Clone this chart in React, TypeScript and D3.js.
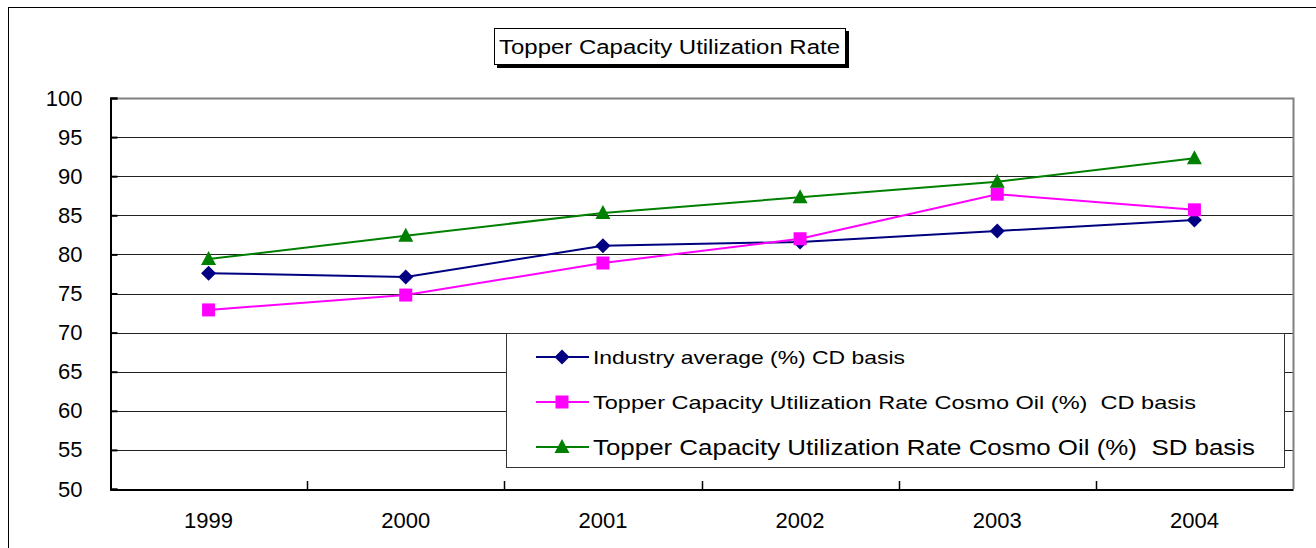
import { useEffect, useRef } from "react";
import * as d3 from "d3";

const YEARS = ["1999", "2000", "2001", "2002", "2003", "2004"];
const INDUSTRY_CD = [77.6, 77.1, 81.1, 81.6, 83.0, 84.4];
const COSMO_CD = [72.9, 74.8, 78.9, 82.0, 87.7, 85.7];
const COSMO_SD = [79.4, 82.4, 85.3, 87.3, 89.3, 92.3];
const Y_TICKS = [50, 55, 60, 65, 70, 75, 80, 85, 90, 95, 100];
const TITLE = "Topper Capacity Utilization Rate";

const SERIES = [
  { name: "Industry average (%) CD basis", values: INDUSTRY_CD, color: "#000080", shape: "diamond" },
  { name: "Topper Capacity Utilization Rate Cosmo Oil (%)  CD basis", values: COSMO_CD, color: "#ff00ff", shape: "square" },
  { name: "Topper Capacity Utilization Rate Cosmo Oil (%)  SD basis", values: COSMO_SD, color: "#008000", shape: "triangle" },
];

const FONT = "'Liberation Sans', Arial, sans-serif";

export default function App() {
  const svgRef = useRef<SVGSVGElement | null>(null);

  useEffect(() => {
    const svg = svgRef.current;
    if (!svg) return;
    svg.innerHTML = "";
    const root = d3.select(svg);

    const plot = { left: 110, right: 1293, top: 98, bottom: 489 };

    const x = d3.scaleBand().domain(YEARS).range([plot.left, plot.right]);
    const y = d3.scaleLinear().domain([50, 100]).range([plot.bottom, plot.top]);
    const cx = (yr: string) => x(yr)! + x.bandwidth() / 2;

    // outer chart frame (runs off the page on right/bottom)
    root.append("rect")
      .attr("x", 8.5).attr("y", 7.5)
      .attr("width", 1340).attr("height", 600)
      .attr("fill", "#fff").attr("stroke", "#000").attr("stroke-width", 1);

    // title box with shadow
    root.append("rect")
      .attr("x", 497).attr("y", 31).attr("width", 352).attr("height", 37)
      .attr("fill", "#000");
    root.append("rect")
      .attr("x", 494.5).attr("y", 28.5).attr("width", 351).attr("height", 36)
      .attr("fill", "#fff").attr("stroke", "#000").attr("stroke-width", 1);
    root.append("text")
      .attr("x", 499).attr("y", 54)
      .attr("font-family", FONT).attr("font-size", 20)
      .attr("textLength", 341).attr("lengthAdjust", "spacingAndGlyphs")
      .text(TITLE);

    // gridlines
    root.append("g")
      .selectAll("line")
      .data(Y_TICKS.filter((t) => t > 50 && t < 100))
      .join("line")
      .attr("x1", plot.left).attr("x2", plot.right)
      .attr("y1", (d) => Math.round(y(d)) + 0.5).attr("y2", (d) => Math.round(y(d)) + 0.5)
      .attr("stroke", "#222").attr("stroke-width", 1);

    // plot frame: top/right gray
    root.append("path")
      .attr("d", `M${plot.left},${plot.top + 0.5}H${plot.right + 0.5}V${plot.bottom}`)
      .attr("fill", "none").attr("stroke", "#808080").attr("stroke-width", 2);

    // y axis
    const yAxis = root.append("g")
      .attr("transform", `translate(${plot.left + 0.5},0)`)
      .call(d3.axisLeft(y).tickValues(Y_TICKS).tickSize(-7).tickPadding(28));
    yAxis.select(".domain").attr("stroke", "#000").attr("stroke-width", 2);
    yAxis.selectAll(".tick line").attr("stroke", "#000").attr("stroke-width", 2);
    yAxis.selectAll("text")
      .attr("font-family", FONT).attr("font-size", 22).attr("fill", "#000");

    // x axis
    const xAxis = root.append("g")
      .attr("transform", `translate(0,${plot.bottom + 0.5})`)
      .call(d3.axisBottom(x).tickSize(0).tickPadding(23));
    xAxis.select(".domain").attr("stroke", "#000").attr("stroke-width", 2);
    xAxis.selectAll("text")
      .attr("font-family", FONT).attr("font-size", 22).attr("fill", "#000");
    // category boundary ticks
    root.append("g")
      .selectAll("line")
      .data(YEARS.slice(1))
      .join("line")
      .attr("x1", (d) => Math.round(x(d)!) + 0.5).attr("x2", (d) => Math.round(x(d)!) + 0.5)
      .attr("y1", plot.bottom - 8).attr("y2", plot.bottom)
      .attr("stroke", "#000").attr("stroke-width", 1.5);

    const drawMarker = (g: d3.Selection<SVGGElement, unknown, null, undefined>, shape: string, px: number, py: number, color: string) => {
      if (shape === "diamond") {
        g.append("path")
          .attr("d", `M${px},${py - 7.5}L${px + 7.5},${py}L${px},${py + 7.5}L${px - 7.5},${py}Z`)
          .attr("fill", color);
      } else if (shape === "square") {
        g.append("rect")
          .attr("x", px - 6.5).attr("y", py - 6.5).attr("width", 13).attr("height", 13)
          .attr("fill", color);
      } else {
        g.append("path")
          .attr("d", `M${px},${py - 8}L${px + 7.5},${py + 6}L${px - 7.5},${py + 6}Z`)
          .attr("fill", color);
      }
    };

    const line = d3.line<number>()
      .x((_, i) => cx(YEARS[i]))
      .y((v) => y(v));

    SERIES.forEach((s) => {
      const g = root.append("g");
      g.append("path")
        .attr("d", line(s.values)!)
        .attr("fill", "none").attr("stroke", s.color).attr("stroke-width", 2);
      s.values.forEach((v, i) => drawMarker(g, s.shape, cx(YEARS[i]), y(v), s.color));
    });

    // legend
    const legend = root.append("g");
    legend.append("rect")
      .attr("x", 506.5).attr("y", 333.5).attr("width", 778).attr("height", 134)
      .attr("fill", "#fff").attr("stroke", "#333").attr("stroke-width", 1);
    const rowY = [357, 402, 447];
    const textLens = [312, 603, 662];
    const fontSizes = [19, 19, 22];
    SERIES.forEach((s, i) => {
      legend.append("line")
        .attr("x1", 536).attr("x2", 589)
        .attr("y1", rowY[i]).attr("y2", rowY[i])
        .attr("stroke", s.color).attr("stroke-width", 2);
      drawMarker(legend as any, s.shape, 562, rowY[i], s.color);
      legend.append("text")
        .attr("x", 593).attr("y", rowY[i] + fontSizes[i] * 0.36)
        .attr("font-family", FONT).attr("font-size", fontSizes[i])
        .attr("textLength", textLens[i]).attr("lengthAdjust", "spacingAndGlyphs")
        .attr("xml:space", "preserve")
        .style("white-space", "pre")
        .text(s.name);
    });
  }, []);

  return (
    <svg
      ref={svgRef}
      width={1316}
      height={548}
      style={{ position: "absolute", left: 0, top: 0, display: "block" }}
    />
  );
}
